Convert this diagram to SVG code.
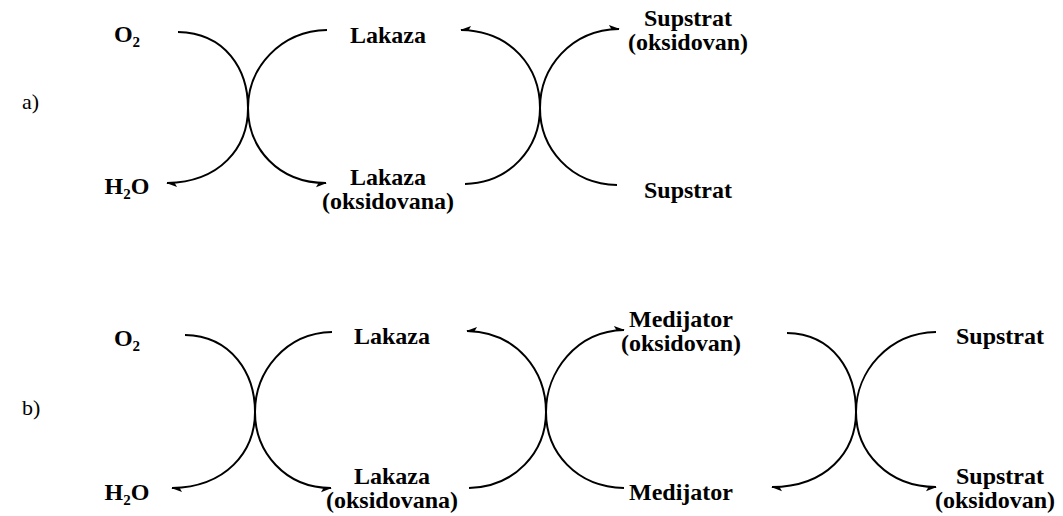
<svg xmlns="http://www.w3.org/2000/svg" width="1063" height="516" viewBox="0 0 1063 516">
  <style>
    text { font-family: 'Liberation Serif', 'Times New Roman', 'DejaVu Serif', serif; fill: #000; }
    .lbl { font-weight: bold; font-size: 24px; text-anchor: middle; }
    .tag { font-size: 22px; }
    .sub { font-size: 15px; }
    .arc { fill: none; stroke: #000; stroke-width: 2; }
    .up { marker-end: url(#hUp); }
    .dn { marker-end: url(#hDn); }
  </style>
  <defs>
    <!-- half arrowheads: barb on marker +y side / -y side -->
    <marker id="hUp" markerUnits="userSpaceOnUse" markerWidth="14" markerHeight="10" viewBox="-12 -5 14 10" refX="0" refY="0" orient="auto" overflow="visible">
      <path d="M1,0 L-10,4.2 L-7.5,0 Z" fill="#000"/>
    </marker>
    <marker id="hDn" markerUnits="userSpaceOnUse" markerWidth="14" markerHeight="10" viewBox="-12 -5 14 10" refX="0" refY="0" orient="auto" overflow="visible">
      <path d="M1,0 L-10,-4.2 L-7.5,0 Z" fill="#000"/>
    </marker>
  </defs>
  <rect width="1063" height="516" fill="#fff"/>

  <!-- connectors -->
  <g id="connectors">
    <!-- row a, first exchange -->
    <path class="arc dn" d="M178,32 C226,33 248,70 248,108 C248,148 220,182 167,183"/>
    <path class="arc up" d="M327,30 C280,31 248,68 248,108 C248,148 278,183 326,183"/>
    <!-- row a, second exchange -->
    <path class="arc up" d="M465,184 C510,183 540,148 540,108 C540,68 512,31 461,30"/>
    <path class="arc dn" d="M617,185 C570,184 540,148 540,108 C540,68 570,30 619,29"/>
    <!-- row b, first exchange -->
    <path class="arc dn" d="M185,335 C232,336 255,374 255,412 C255,452 226,487 172,488"/>
    <path class="arc up" d="M332,332 C285,333 255,372 255,412 C255,452 285,488 331,488"/>
    <!-- row b, second exchange -->
    <path class="arc up" d="M469,488 C515,487 546,452 546,412 C546,372 518,332 467,331"/>
    <path class="arc dn" d="M624,488 C576,487 546,452 546,412 C546,372 576,331 624,330"/>
    <!-- row b, third exchange -->
    <path class="arc dn" d="M787,333 C834,334 856,372 856,412 C856,452 826,487 772,487"/>
    <path class="arc up" d="M936,332 C888,333 856,372 856,412 C856,452 888,487 936,487"/>
  </g>

  <g id="tag-a"><text class="tag" x="22" y="109">a)</text></g>
  <g id="tag-b"><text class="tag" x="22" y="415">b)</text></g>

  <!-- row a -->
  <g id="a-o2"><text class="lbl" x="127" y="42">O<tspan class="sub" dy="5">2</tspan></text></g>
  <g id="a-h2o"><text class="lbl" x="127" y="194">H<tspan class="sub" dy="5">2</tspan><tspan dy="-5">O</tspan></text></g>
  <g id="a-lakaza"><text class="lbl" x="388" y="43">Lakaza</text></g>
  <g id="a-lakaza-ox"><text class="lbl" x="388" y="185">Lakaza</text><text class="lbl" x="388" y="209">(oksidovana)</text></g>
  <g id="a-supstrat-ox"><text class="lbl" x="688" y="26">Supstrat</text><text class="lbl" x="688" y="50">(oksidovan)</text></g>
  <g id="a-supstrat"><text class="lbl" x="688" y="198">Supstrat</text></g>

  <!-- row b -->
  <g id="b-o2"><text class="lbl" x="127" y="346">O<tspan class="sub" dy="5">2</tspan></text></g>
  <g id="b-h2o"><text class="lbl" x="127" y="500">H<tspan class="sub" dy="5">2</tspan><tspan dy="-5">O</tspan></text></g>
  <g id="b-lakaza"><text class="lbl" x="392" y="344">Lakaza</text></g>
  <g id="b-lakaza-ox"><text class="lbl" x="392" y="484">Lakaza</text><text class="lbl" x="392" y="508">(oksidovana)</text></g>
  <g id="b-medijator-ox"><text class="lbl" x="681" y="327">Medijator</text><text class="lbl" x="681" y="351">(oksidovan)</text></g>
  <g id="b-medijator"><text class="lbl" x="681" y="500">Medijator</text></g>
  <g id="b-supstrat"><text class="lbl" x="1000" y="344">Supstrat</text></g>
  <g id="b-supstrat-ox"><text class="lbl" x="1000" y="484">Supstrat</text><text class="lbl" x="995" y="508">(oksidovan)</text></g>
</svg>
